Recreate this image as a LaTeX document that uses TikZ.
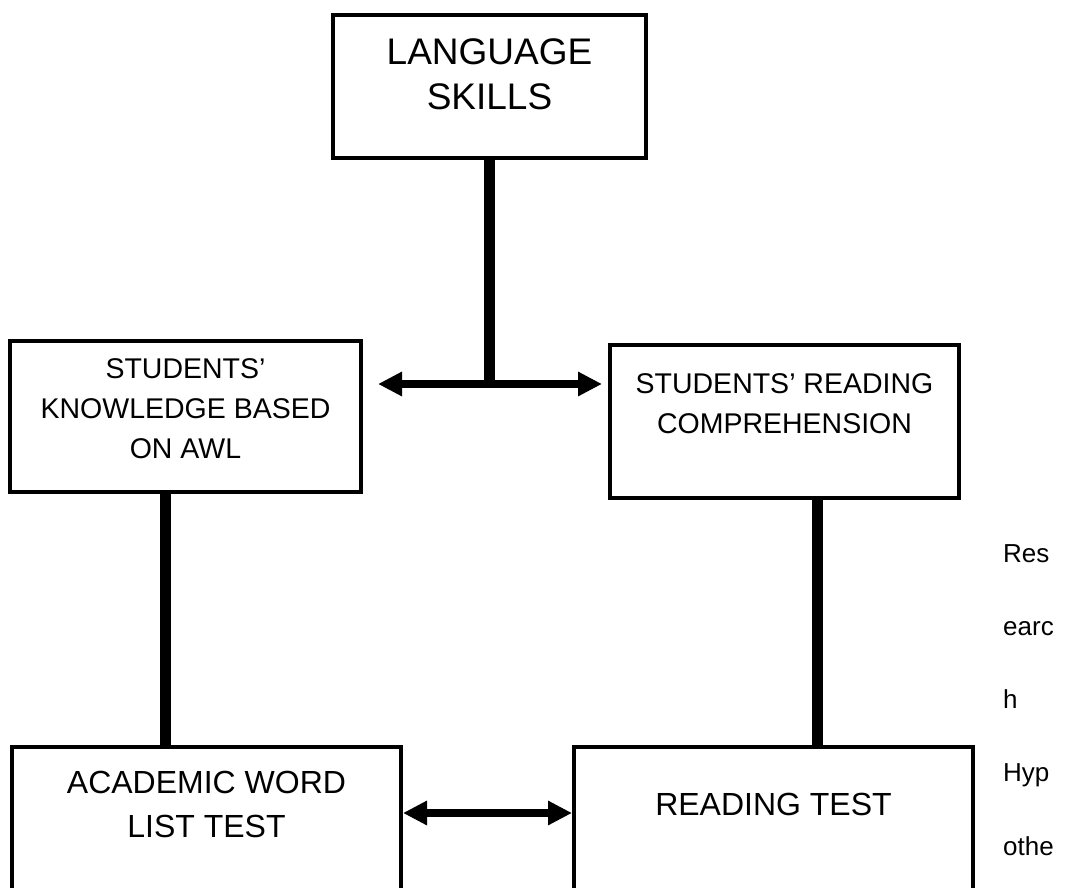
\documentclass[tikz,border=0pt]{standalone}
\usepackage{fontspec}
\setmainfont{Liberation Sans}
\usetikzlibrary{positioning, arrows.meta}

\begin{document}
\begin{tikzpicture}[x=1pt, y=-1pt,
    block/.style={draw, line width=4pt, inner sep=0pt, anchor=base},
    bar/.style={line width=11pt},
    link/.style={line width=8pt, {Triangle[length=24pt,width=23pt]}-{Triangle[length=24pt,width=23pt]}}]
    \clip (0,0) rectangle (1073,888);

    \node[block, minimum width=313pt, text height=50pt, text depth=93pt] (skills) at (489.5,65) {
        \fontsize{37}{45}\selectfont
        \begin{tabular}[t]{c}
        LANGUAGE \\
        SKILLS
        \end{tabular}
    };
    \node[block, minimum width=351pt, text height=37pt, text depth=114pt] (know) at (185.5,378) {
        \fontsize{28.5}{40}\selectfont
        \begin{tabular}[t]{c}
        STUDENTS’ \\
        KNOWLEDGE BASED \\
        ON AWL
        \end{tabular}
    };
    \node[block, minimum width=349pt, text height=48pt, text depth=105pt] (comp) at (784.5,393) {
        \fontsize{28.5}{40}\selectfont
        \begin{tabular}[t]{c}
        STUDENTS’ READING \\
        COMPREHENSION
        \end{tabular}
    };
    \node[block, minimum width=389pt, text height=46pt, text depth=200pt] (awl) at (206.5,793) {
        \fontsize{32}{44}\selectfont
        \begin{tabular}[t]{c}
        ACADEMIC WORD \\
        LIST TEST
        \end{tabular}
    };
    \node[block, minimum width=399pt, text height=68pt, text depth=200pt] (readtest) at (773.5,815) {
        \fontsize{32}{44}\selectfont
        READING TEST
    };
    \node[anchor=base west, inner sep=0pt] (hypothesis) at (1003,562) {
        \fontsize{26}{73.25}\selectfont
        \begin{tabular}[t]{@{}l@{}}
        Res \\
        earc \\
        h \\
        Hyp \\
        othe
        \end{tabular}
    };

    % connectors
    \coordinate (junction) at (489.5,384);
    \coordinate (lowlink) at (489.5,813);
    \draw[bar] (skills.south) -- (junction);
    \draw[link, shorten <=15pt, shorten >=6pt] (know.east |- junction) -- (comp.west |- junction);
    \draw[bar] ([xshift=-20.5pt]know.south) -- ([xshift=-20.5pt]know.south |- awl.north);
    \draw[bar] ([xshift=32.5pt]comp.south) -- ([xshift=32.5pt]comp.south |- readtest.north);
    \draw[link] (awl.east |- lowlink) -- (readtest.west |- lowlink);
\end{tikzpicture}
\end{document}
